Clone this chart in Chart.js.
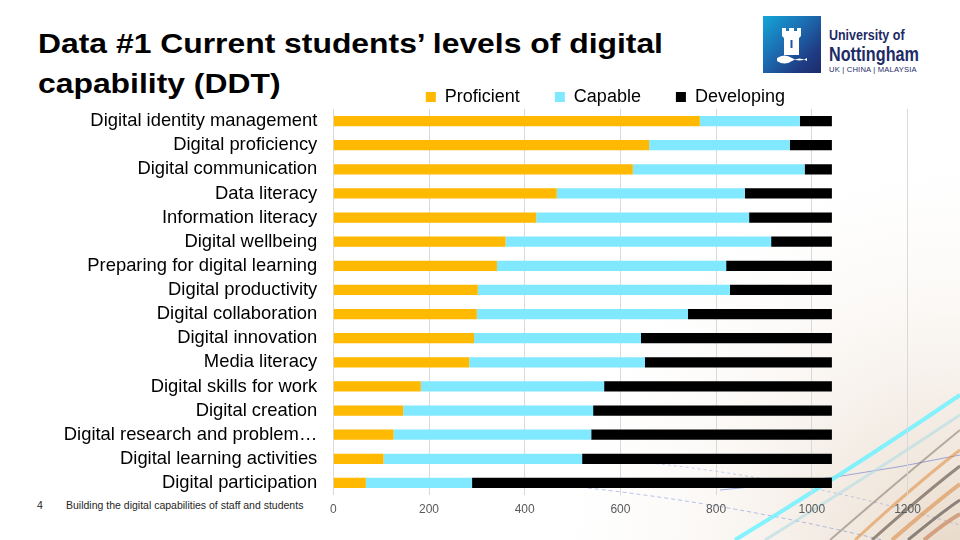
<!DOCTYPE html>
<html>
<head>
<meta charset="utf-8">
<script src="https://cdn.jsdelivr.net/npm/chart.js@4.4.1/dist/chart.umd.min.js"></script>
<style>
html,body{margin:0;padding:0;width:960px;height:540px;overflow:hidden;background:#fff;font-family:"Liberation Sans",Arial,sans-serif;}
#bg{position:absolute;left:0;top:0;width:960px;height:540px;}
#title{position:absolute;left:38px;top:24px;font-weight:bold;font-size:27px;line-height:40px;color:#000;transform:scaleX(1.18);transform-origin:0 0;white-space:nowrap;}
#logo{position:absolute;left:763px;top:16px;width:58px;height:57px;background:linear-gradient(135deg,#13a6d8 0%,#1c6fb3 40%,#1f3d86 75%,#1d2a6a 100%);}
#logotext{position:absolute;left:829px;top:27px;color:#1d2b66;white-space:nowrap;transform-origin:0 0;}
#lt1{font-size:14.5px;font-weight:bold;line-height:17px;transform:scaleX(0.86);transform-origin:0 0;}
#lt2{font-size:20.5px;font-weight:bold;line-height:19px;transform:scaleX(0.79);transform-origin:0 0;}
#lt3{font-size:7.6px;line-height:13px;letter-spacing:0.2px;}
#footer{position:absolute;left:37px;top:499px;font-size:10.5px;color:#262626;white-space:nowrap;}
#footer span{display:inline-block;width:29px;}
#wrap{position:absolute;left:0;top:0;width:960px;height:540px;}
</style>
</head>
<body>
<svg id="bg" viewBox="0 0 960 540" xmlns="http://www.w3.org/2000/svg">
  <defs>
    <radialGradient id="rg" cx="960" cy="560" r="430" gradientUnits="userSpaceOnUse">
      <stop offset="0" stop-color="#e6d6c4" stop-opacity="0.95"/>
      <stop offset="0.4" stop-color="#f2e9e0" stop-opacity="0.7"/>
      <stop offset="1" stop-color="#ffffff" stop-opacity="0"/>
    </radialGradient>
  </defs>
  <rect x="0" y="0" width="960" height="540" fill="url(#rg)"/>
  <path d="M560 485 Q760 505 960 560" stroke="#4a66d0" stroke-width="1" fill="none" opacity="0.4" stroke-dasharray="4 3"/>
  <path d="M620 460 Q790 475 960 525" stroke="#4a66d0" stroke-width="1" fill="none" opacity="0.3" stroke-dasharray="3 3"/>
  <path d="M720 490 Q840 480 960 455" stroke="#3050c0" stroke-width="1" fill="none" opacity="0.45"/>
  <path d="M735 540 Q850 470 960 395" stroke="#6ff2ff" stroke-width="4" fill="none" opacity="0.85"/>
  <path d="M765 540 Q870 475 960 415" stroke="#b0dce4" stroke-width="3" fill="none" opacity="0.6"/>
  <path d="M830 540 Q905 475 960 430" stroke="#7a6a60" stroke-width="2" fill="none" opacity="0.5"/>
  <path d="M855 540 Q918 482 960 450" stroke="#e08a3a" stroke-width="3" fill="none" opacity="0.55"/>
  <path d="M872 540 Q926 492 960 466" stroke="#5a4a40" stroke-width="3" fill="none" opacity="0.6"/>
  <path d="M892 540 Q936 502 960 484" stroke="#d9853a" stroke-width="4" fill="none" opacity="0.55"/>
  <path d="M908 540 Q942 512 960 500" stroke="#3a3330" stroke-width="3" fill="none" opacity="0.55"/>
  <path d="M924 540 Q946 522 960 514" stroke="#c07040" stroke-width="4" fill="none" opacity="0.55"/>
</svg>

<div id="title">Data #1 Current students’ levels of digital<br>capability (DDT)</div>

<div id="logo">
  <svg width="58" height="57" viewBox="0 0 58 57" xmlns="http://www.w3.org/2000/svg">
    <path d="M19 12 h4 v3 h3 v-3 h5 v3 h3 v-3 h4 v8 l-2 2 v17 h-15 v-17 l-2 -2 z" fill="#fff"/>
    <rect x="27.5" y="24" width="2" height="8" fill="#1c5a9e"/>
    <path d="M14 42 q7.5 -5 15 0 t15 0 v3 q-7.5 -5 -15 0 t-15 0 z" fill="#fff"/>
  </svg>
</div>
<div id="logotext">
  <div id="lt1">University of</div>
  <div id="lt2">Nottingham</div>
  <div id="lt3">UK | CHINA | MALAYSIA</div>
</div>

<div id="footer"><span>4</span>Building the digital capabilities of staff and students</div>

<div id="wrap"><canvas id="c" width="960" height="540"></canvas></div>

<script>
const categories = [
  "Digital identity management",
  "Digital proficiency",
  "Digital communication",
  "Data literacy",
  "Information literacy",
  "Digital wellbeing",
  "Preparing for digital learning",
  "Digital productivity",
  "Digital collaboration",
  "Digital innovation",
  "Media literacy",
  "Digital skills for work",
  "Digital creation",
  "Digital research and problem…",
  "Digital learning activities",
  "Digital participation"
];
const seriesNames = ["Proficient", "Capable", "Developing"];
const proficient = [766, 660, 626, 467, 424, 360, 342, 302, 300, 294, 284, 183, 146, 126, 105, 68];
const capable    = [209, 294, 359, 393, 445, 555, 479, 527, 441, 349, 367, 383, 397, 413, 415, 222];
const developing = [67, 88, 57, 182, 173, 127, 221, 213, 301, 399, 391, 476, 499, 503, 522, 752];
const xTicks = [0, 200, 400, 600, 800, 1000, 1200];

const FONT = "'Liberation Sans', Arial, sans-serif";
const LEG_DX = -15, LEG_DY = 7;

const legendShift = {
  id: 'legendShift',
  afterLayout(chart) {
    const l = chart.legend;
    if (!l) return;
    l.left += LEG_DX; l.right += LEG_DX;
    l.top += LEG_DY; l.bottom += LEG_DY;
  }
};

new Chart(document.getElementById('c'), {
  type: 'bar',
  data: {
    labels: categories,
    datasets: [
      { label: seriesNames[0], data: proficient, backgroundColor: '#FFB900' },
      { label: seriesNames[1], data: capable, backgroundColor: '#80E8FF' },
      { label: seriesNames[2], data: developing, backgroundColor: '#000000' }
    ]
  },
  options: {
    indexAxis: 'y',
    responsive: false,
    animation: false,
    datasets: { bar: { barPercentage: 0.42, categoryPercentage: 1 } },
    layout: { padding: { top: 46, left: 0, right: 52.5, bottom: 5 } },
    plugins: {
      legend: {
        position: 'top',
        fullSize: false,
        labels: { boxWidth: 10, boxHeight: 10, padding: 35, color: '#000', font: { size: 18, family: FONT } }
      },
      tooltip: { enabled: false }
    },
    scales: {
      x: {
        stacked: true,
        min: 0,
        max: 1200,
        afterBuildTicks: s => { s.ticks = xTicks.map(v => ({ value: v })); },
        afterFit: s => { s.height = 40; },
        ticks: { color: '#595959', font: { size: 12, family: FONT }, padding: 7, callback: v => String(v) },
        grid: { color: '#d9d9d9', lineWidth: 1, drawTicks: false },
        border: { display: false }
      },
      y: {
        stacked: true,
        afterFit: s => { s.width = 333.3; },
        grid: { display: false, drawTicks: false },
        border: { display: false },
        ticks: { color: '#000', font: { size: 18.4, family: FONT }, padding: 16, autoSkip: false }
      }
    }
  },
  plugins: [legendShift]
});
</script>
</body>
</html>
